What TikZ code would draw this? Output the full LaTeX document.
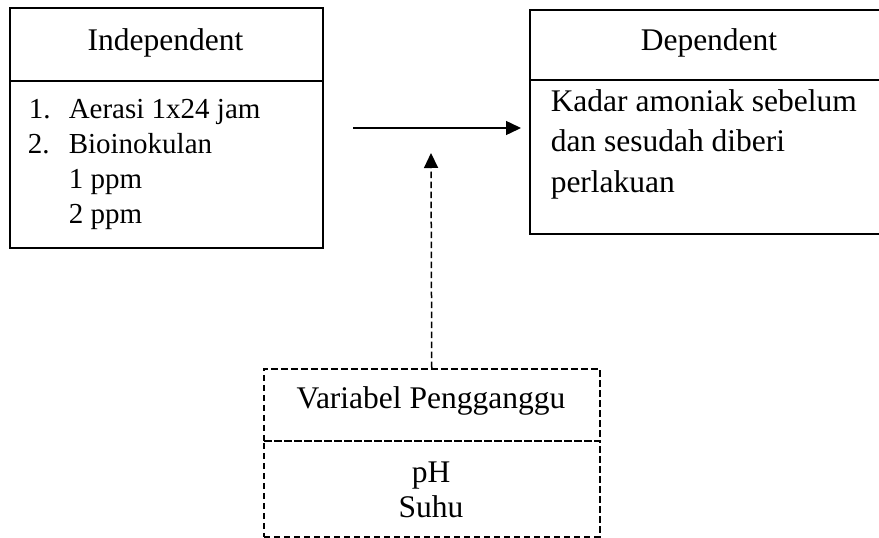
\documentclass[tikz,border=0pt]{standalone}
\usepackage{fontspec}
\setmainfont{Liberation Serif}
\usetikzlibrary{arrows.meta}
\begin{document}
\begin{tikzpicture}[x=1pt,y=-1pt, line width=1.5pt,
  box/.style={draw, inner sep=0pt, anchor=north west},
  dbox/.style={box, dash pattern=on 6.5pt off 3.5pt},
  txt/.style={inner sep=0pt, font=\fontsize{31.5}{36}\selectfont},
  small/.style={inner sep=0pt, font=\fontsize{29}{35}\selectfont},
  tip/.style={-{Triangle[length=15pt,width=14pt]}}]
\useasboundingbox (0,0) rectangle (879,538);
\clip (0,0) rectangle (879,538);
% independent
\node[box, minimum width=313pt, minimum height=73pt] (indh) at (9,7) {};
\node[box, minimum width=313pt, minimum height=167pt] (indb) at (9,80) {};
\node[txt, anchor=base] (indt) at (165.5,50) {Independent};
\node[small, anchor=base west] (n1) at (28,118) {1.};
\node[small, anchor=base west] (l1) at (68,118) {Aerasi 1x24 jam};
\node[small, anchor=base west] (n2) at (27,153) {2.};
\node[small, anchor=base west] (l2) at (68,153) {Bioinokulan};
\node[small, anchor=base west] (l3) at (68,188) {1 ppm};
\node[small, anchor=base west] (l4) at (68,223) {2 ppm};
% dependent
\node[box, minimum width=360pt, minimum height=70pt] (deph) at (529,9) {};
\node[box, minimum width=360pt, minimum height=154pt] (depb) at (529,79) {};
\node[txt, anchor=base] (dept) at (709,50) {Dependent};
\node[txt, anchor=base west] (d1) at (550,111) {Kadar amoniak sebelum};
\node[txt, anchor=base west] (d2) at (550,151) {dan sesudah diberi};
\node[txt, anchor=base west] (d3) at (550,192) {perlakuan};
% confounding
\node[dbox, minimum width=336pt, minimum height=72pt] (vh) at (263,368) {};
\node[dbox, minimum width=336pt, minimum height=96pt] (vb) at (263,440) {};
\node[txt, anchor=base] (vt) at (431,408) {Variabel Pengganggu};
\node[txt, anchor=base] (v1) at (431,482) {pH};
\node[txt, anchor=base] (v2) at (431,517) {Suhu};
% connectors
\coordinate (as) at (353,128);
\coordinate (ae) at (521,128);
\draw[tip] (as) -- (ae);
\coordinate (dt) at (431,153);
\draw[tip, dash pattern=on 6.5pt off 3.5pt] (vh.north) -- (dt);
\end{tikzpicture}
\end{document}
